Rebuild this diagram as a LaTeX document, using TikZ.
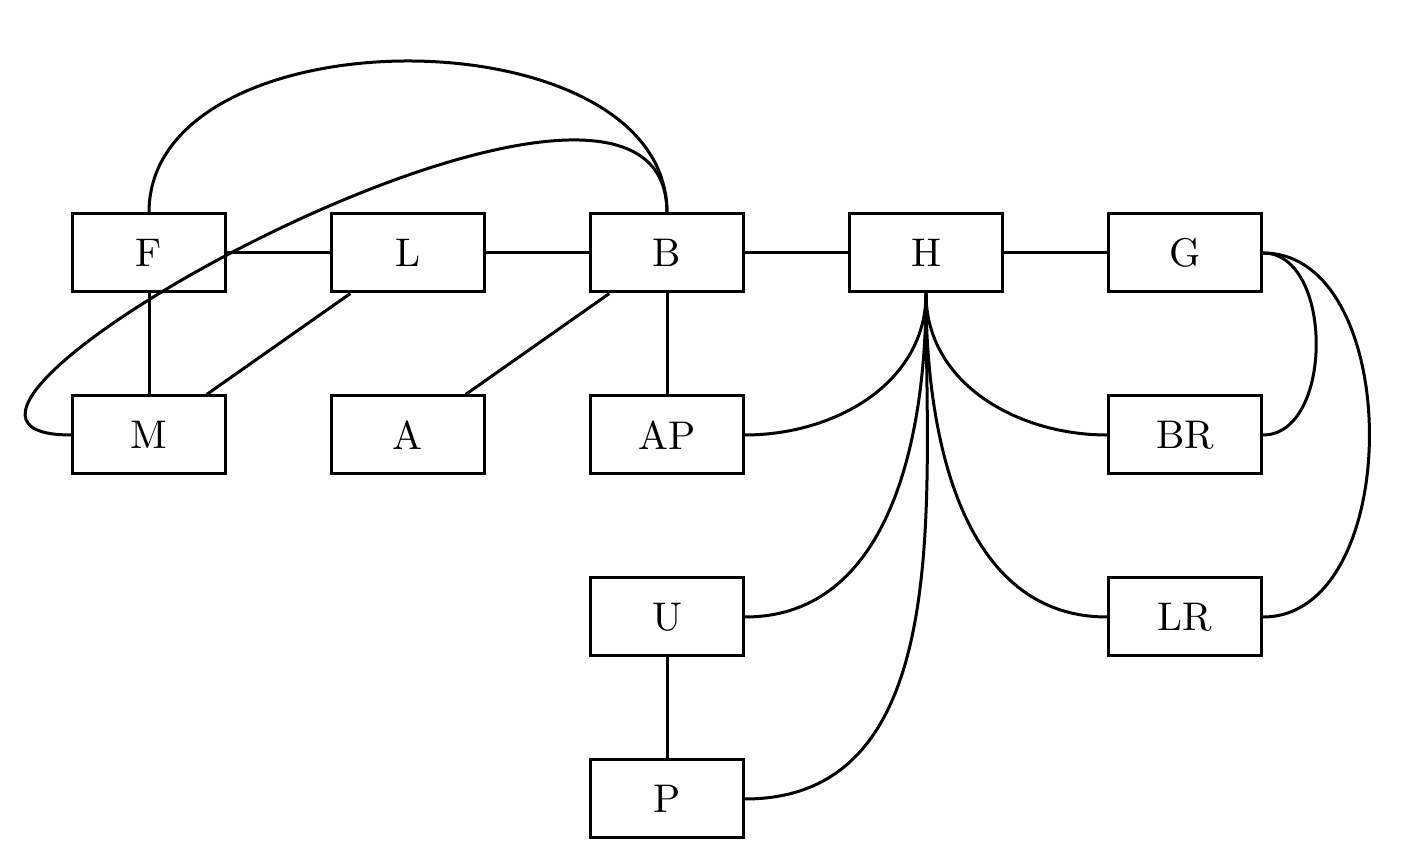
\documentclass[tikz,border=0pt]{standalone}
\begin{document}
\begin{tikzpicture}[x=0.25pt,y=0.25pt,
  box/.style={draw,line width=0.75pt,minimum width=38.25pt,minimum height=19.5pt,inner sep=0pt},
  conn/.style={line width=0.75pt}]
\useasboundingbox (0,0) rectangle (1407,-863);
\node[box] (F) at (149,-253) {F};
\node[box] (L) at (408,-253) {L};
\node[box] (B) at (667,-253) {B};
\node[box] (H) at (926,-253) {H};
\node[box] (G) at (1185,-253) {G};
\node[box] (M) at (149,-435) {M};
\node[box] (A) at (408,-435) {A};
\node[box] (AP) at (667,-435) {AP};
\node[box] (BR) at (1185,-435) {BR};
\node[box] (U) at (667,-617) {U};
\node[box] (LR) at (1185,-617) {LR};
\node[box] (P) at (667,-799) {P};
\draw[conn] (F) -- (L);
\draw[conn] (L) -- (B);
\draw[conn] (B) -- (H);
\draw[conn] (H) -- (G);
\draw[conn] (F) -- (M);
\draw[conn] (L) -- (M);
\draw[conn] (B) -- (A);
\draw[conn] (B) -- (AP);
\draw[conn] (U) -- (P);
\draw[conn] (F.north) to[out=90,in=90] (B.north);
\draw[conn] (M.west) to[out=180,in=90] (B.north);
\draw[conn] (H.south) to[out=-90,in=0] (AP.east);
\draw[conn] (H.south) to[out=-90,in=0] (U.east);
\draw[conn] (H.south) to[out=-90,in=0] (P.east);
\draw[conn] (H.south) to[out=-90,in=180] (BR.west);
\draw[conn] (H.south) to[out=-90,in=180] (LR.west);
\draw[conn] (G.east) to[out=0,in=0] (BR.east);
\draw[conn] (G.east) to[out=0,in=0] (LR.east);
\end{tikzpicture}
\end{document}
